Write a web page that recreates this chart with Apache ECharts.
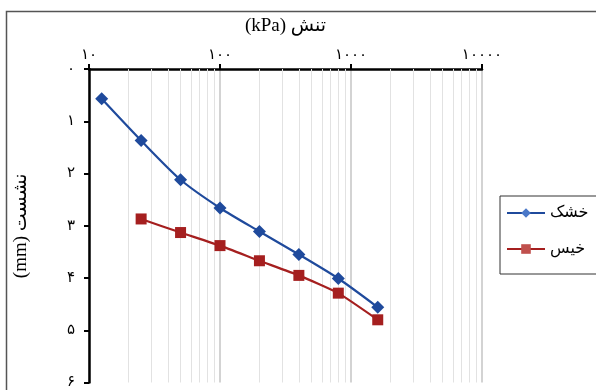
<!DOCTYPE html>
<html>
<head>
<meta charset="utf-8">
<script src="https://cdn.jsdelivr.net/npm/echarts@6/dist/echarts.min.js"></script>
<style>
  html, body { margin: 0; padding: 0; background: #fff; }
  #chart { width: 596px; height: 390px; }
</style>
</head>
<body>
<div id="chart"></div>
<script>
// داده‌ها
const stressDry = [12.5, 25, 50, 100, 200, 400, 800, 1600];
const settleDry = [0.57, 1.37, 2.12, 2.66, 3.11, 3.55, 4.01, 4.56];
const stressWet = [25, 50, 100, 200, 400, 800, 1600];
const settleWet = [2.87, 3.13, 3.38, 3.67, 3.95, 4.29, 4.80];
const minorGrid = [20, 30, 40, 50, 60, 70, 80, 90, 200, 300, 400, 500, 600, 700, 800, 900,
  2000, 3000, 4000, 5000, 6000, 7000, 8000, 9000];
const seriesNames = ['خشک', 'خیس'];

const font = "'Times New Roman', 'Liberation Serif', 'DejaVu Sans', serif";
const toFa = v => String(v).replace(/\d/g, d => '۰۱۲۳۴۵۶۷۸۹'[d]);

const myChart = echarts.init(document.getElementById('chart'));

const option = {
  animation: false,
  textStyle: { fontFamily: font },
  graphic: [
    {
      type: 'rect',
      shape: { x: 6.5, y: 11.5, width: 700, height: 500 },
      style: { fill: 'none', stroke: '#555', lineWidth: 1.5 },
      z: 0
    }
  ],
  legend: {
    data: [
      { name: seriesNames[0], itemStyle: { color: '#4a78c8' } },
      { name: seriesNames[1], itemStyle: { color: '#c0504d' } }
    ],
    orient: 'vertical',
    left: 500,
    top: 196,
    padding: [9, 30, 17, 6],
    itemGap: 20,
    itemWidth: 38,
    itemHeight: 12,
    borderColor: '#333',
    borderWidth: 1,
    textStyle: { fontSize: 16, color: '#000', fontFamily: font }
  },
  grid: {
    left: 89,
    right: 114,
    top: 69,
    bottom: 7
  },
  xAxis: {
    type: 'log',
    position: 'top',
    min: 10,
    max: 10000,
    logBase: 10,
    name: '(kPa) تنش',
    nameLocation: 'middle',
    nameGap: 33,
    nameTextStyle: { fontSize: 19, color: '#000', fontFamily: font },
    axisLine: { lineStyle: { color: '#000', width: 2.5 } },
    axisTick: { show: true, length: 5, lineStyle: { color: '#000', width: 2 } },
    axisLabel: {
      fontSize: 15,
      color: '#000',
      margin: 6,
      formatter: v => toFa(v)
    },
    splitLine: { show: true, lineStyle: { color: '#c4c4c4', width: 1.5 } }
  },
  yAxis: {
    type: 'value',
    inverse: true,
    min: 0,
    max: 6,
    interval: 1,
    name: '(mm) نشست',
    nameLocation: 'middle',
    nameGap: 58,
    nameTextStyle: { fontSize: 19, color: '#000', fontFamily: font },
    axisLine: { show: true, lineStyle: { color: '#000', width: 2.5 } },
    axisTick: { show: true, length: 5, lineStyle: { color: '#000', width: 2 } },
    axisLabel: {
      fontSize: 15,
      color: '#000',
      margin: 14,
      formatter: v => toFa(v)
    },
    splitLine: { show: false }
  },
  series: [
    {
      // خطوط راهنمای فرعی مقیاس لگاریتمی
      type: 'line',
      data: [],
      z: 1,
      silent: true,
      markLine: {
        silent: true,
        z: 1,
        symbol: 'none',
        label: { show: false },
        lineStyle: { color: '#e2e2e2', width: 1, type: 'solid' },
        data: minorGrid.map(v => ({ xAxis: v }))
      }
    },
    {
      name: seriesNames[0],
      type: 'line',
      data: stressDry.map((x, i) => [x, settleDry[i]]),
      smooth: 0.25,
      symbol: 'diamond',
      symbolSize: 13,
      z: 3,
      itemStyle: { color: '#1f4a9c' },
      lineStyle: { color: '#1f4a9c', width: 2.2 }
    },
    {
      name: seriesNames[1],
      type: 'line',
      data: stressWet.map((x, i) => [x, settleWet[i]]),
      smooth: 0.15,
      symbol: 'rect',
      symbolSize: 11,
      z: 3,
      itemStyle: { color: '#a51f1f' },
      lineStyle: { color: '#a51f1f', width: 2.2 }
    }
  ]
};

myChart.setOption(option);
</script>
</body>
</html>
